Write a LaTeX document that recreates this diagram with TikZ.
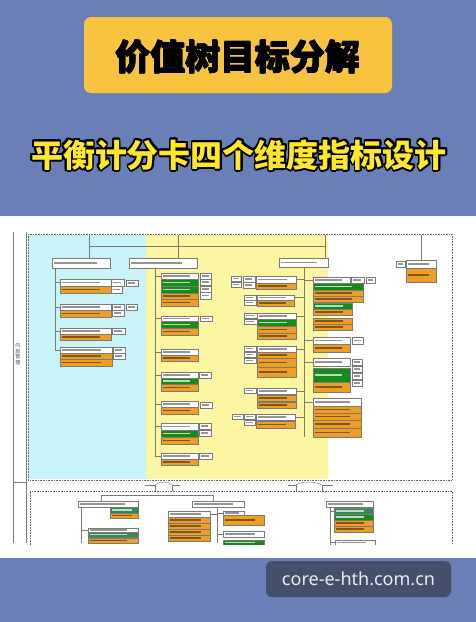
\documentclass[tikz,border=0pt]{standalone}
\usepackage{fontspec}
\usetikzlibrary{calc}
\newfontfamily\cjk{Noto Sans CJK SC}
\newfontfamily\wmfont{Noto Sans}
\definecolor{bgblue}{HTML}{6A7FB5}
\definecolor{ttlyel}{HTML}{F8C440}
\definecolor{subyel}{HTML}{FFE82A}
\definecolor{wmbox}{HTML}{434F6B}
\definecolor{wmtxt}{HTML}{E8ECF4}
\definecolor{cyanbg}{HTML}{C8F3F8}
\definecolor{yelbg}{HTML}{FCF6A2}
\definecolor{orng}{HTML}{EE9E22}
\definecolor{grn}{HTML}{178A1A}
\definecolor{teal}{HTML}{2E8B55}
\definecolor{linec}{HTML}{7A7A7A}
\newcommand\bx[6]{\node[#2, minimum width={#5-#3}, minimum height={#6-#4}] (#1) at ({(#3+#5)/2},{(#4+#6)/2}) {};}
\tikzset{
  box/.style={draw=linec, line width=0.35pt, inner sep=0pt, outer sep=0pt, rectangle},
  tex/.style={path picture={\fill[#1] ($(path picture bounding box.west)+(1.5pt,-0.8pt)$) rectangle ($(path picture bounding box.west)!0.78!(path picture bounding box.east)+(0,0.8pt)$);}},
  wb/.style={box, fill=white, tex=black!42},
  ob/.style={box, fill=orng, tex=orng!55!black},
  gb/.style={box, fill=grn, tex=white!70!grn},
  tb/.style={box, fill=teal, tex=white!70!teal},
  conn/.style={draw=linec, line width=0.45pt},
  frame/.style={draw=linec!80!black, line width=0.6pt, densely dotted},
}
\begin{document}
\begin{tikzpicture}[x=1pt,y=-1pt]
\useasboundingbox (0,0) rectangle (476,622);
% background
\fill[bgblue] (0,0) rectangle (476,622);
% title
\node[fill=ttlyel, rounded corners=7pt, minimum width=308, minimum height=76, inner sep=0] (ttlbox) at (238,55) {};
\foreach \dx/\dy in {0/0,0.5/0,-0.5/0,0/0.5,0/-0.5,0.4/0.4,-0.4/-0.4}{
  \node[font=\cjk\bfseries\fontsize{35}{40}\selectfont, text=black] at ($(238,57)+(\dx,\dy)$) {价值树目标分解};
}
\node[font=\cjk\bfseries\fontsize{35}{40}\selectfont, text=black] (ttl) at (238,57) {价值树目标分解};
% subtitle with outline
\foreach \a in {0,22.5,...,359}{
  \node[font=\cjk\bfseries\fontsize{32}{38}\selectfont, text=black] at ($(239,155)+(\a:1.8)$) {平衡计分卡四个维度指标设计};
}
\node[font=\cjk\bfseries\fontsize{32}{38}\selectfont, text=subyel] (sub) at (239,155) {平衡计分卡四个维度指标设计};
% white panel
\fill[white!96!gray] (0,216) rectangle (476,558);
\fill[white] (0,218) rectangle (476,556);
% left brackets
\draw[conn] (13,232) -- (13,543);
\draw[conn] (13,482) -- (26,482);
\draw[conn] (26,232) -- (26,543);
\node[font=\cjk\fontsize{5}{5.6}\selectfont, text=black!70, align=center, inner sep=0] (lbl) at (18,354) {内\\部\\管\\理};
% top region fills
\fill[cyanbg] (28,235) rectangle (146,479);
\fill[yelbg] (146,235) rectangle (328,479);
\draw[frame] (28,234) rectangle (452,480);
% bottom region frame
\draw[frame] (30,545) -- (30,491) -- (452,491) -- (452,545);
% braces between regions
\draw[conn] (145,485) -- (155,485) -- (155,491);
\draw[conn] (155,485) .. controls (160,481) and (168,481) .. (172,485);
\draw[conn] (172,491) -- (172,485) -- (180,485);
\draw[conn] (288,485) -- (296,485) -- (296,491);
\draw[conn] (296,485) .. controls (302,481) and (314,481) .. (322,485);
\draw[conn] (322,491) -- (322,485) -- (333,485);

% ---------- level 1 boxes ----------
\bx{A}{wb}{52}{258}{110}{268}
\bx{B}{wb}{129}{258}{197}{268}
\bx{C}{wb}{279}{258}{328}{267}
\bx{Dl}{wb}{396}{261}{405}{267}
\bx{D}{wb}{406}{260}{436}{268}
\bx{Do}{ob}{406}{268}{436}{282}
\coordinate (topA) at (89,235);
\coordinate (topB) at (178,235);
\coordinate (topC) at (325,235);
\coordinate (topD) at (421,235);
\draw[conn] (topA) -- (topA |- A.north);
\draw[conn] (topB) -- (topB |- B.north);
\draw[conn] (topC) -- (topC |- C.north);
\draw[conn] (topD) -- (topD |- D.north);
\draw[conn] (89,246) -- (325,246);

% ---------- column A ----------
\bx{A1}{wb}{60}{279}{111}{286}
\bx{A1s}{wb}{111}{279}{124}{286}
\bx{A1t}{wb}{126}{280}{138}{286}
\bx{A1o}{ob}{60}{286}{111}{293}
\bx{A1u}{wb}{111}{286}{122}{293}
\bx{A2}{wb}{60}{304}{111}{310}
\bx{A2s}{wb}{112}{304}{124}{310}
\bx{A2t}{wb}{126}{304}{137}{310}
\bx{A2o}{ob}{60}{310}{111}{317}
\bx{A2u}{wb}{112}{310}{124}{316}
\bx{A3}{wb}{60}{328}{111}{334}
\bx{A3s}{wb}{112}{328}{125}{334}
\bx{A3o}{ob}{60}{334}{111}{340}
\bx{A4}{wb}{60}{347}{112}{353}
\bx{A4s}{wb}{113}{347}{125}{353}
\bx{A4o}{ob}{60}{353}{112}{359}
\bx{A4u}{wb}{113}{353}{125}{359}
\bx{A4p}{ob}{60}{359}{112}{366}
\coordinate (tA) at (55,268);
\draw[conn] (tA) -- (55,350);
\foreach \n in {A1,A2,A3,A4}{\draw[conn] (\n.west) -- (\n.west -| tA);}

% ---------- column B ----------
\bx{B1}{wb}{161}{273}{198}{279}
\bx{B1s}{wb}{200}{273}{211}{279}
\bx{B1g}{gb}{161}{279}{198}{286}
\bx{B1t}{wb}{200}{279}{211}{285}
\bx{B1h}{gb}{161}{286}{198}{293}
\bx{B1u}{wb}{200}{286}{211}{292}
\bx{B1o}{ob}{161}{293}{198}{299}
\bx{B1v}{wb}{200}{292}{211}{299}
\bx{B1p}{ob}{161}{299}{198}{306}
\bx{B2}{wb}{161}{316}{198}{321}
\bx{B2s}{wb}{200}{316}{212}{321}
\bx{B2g}{gb}{161}{321}{198}{328}
\bx{B2o}{ob}{161}{328}{198}{335}
\bx{B3}{wb}{161}{349}{198}{355}
\bx{B3o}{ob}{161}{355}{198}{361}
\bx{B4}{wb}{161}{372}{198}{378}
\bx{B4s}{wb}{199}{372}{211}{378}
\bx{B4g}{gb}{161}{378}{198}{384}
\bx{B4o}{ob}{161}{384}{198}{391}
\bx{B5}{wb}{161}{401}{198}{407}
\bx{B5s}{wb}{200}{402}{212}{408}
\bx{B5o}{ob}{161}{407}{198}{414}
\bx{B6}{wb}{161}{423}{198}{430}
\bx{B6s}{wb}{199}{423}{211}{429}
\bx{B6t}{wb}{199}{430}{211}{436}
\bx{B6g}{gb}{161}{430}{198}{437}
\bx{B6o}{ob}{161}{437}{198}{444}
\bx{B7}{wb}{161}{453}{198}{459}
\bx{B7s}{wb}{199}{453}{212}{459}
\bx{B7o}{ob}{161}{459}{198}{465}
\coordinate (tB) at (155,268);
\draw[conn] (tB) -- (155,456);
\foreach \n in {B1,B2,B3,B4,B5,B6,B7}{\draw[conn] (\n.west) -- (\n.west -| tB);}

% ---------- column C, right side ----------
\bx{CR1}{wb}{313}{277}{350}{283}
\bx{CR1s}{wb}{351}{277}{364}{283}
\bx{CR1t}{wb}{366}{277}{375}{283}
\bx{CR1g}{gb}{313}{283}{363}{290}
\bx{CR1o}{ob}{313}{290}{363}{296}
\bx{CR1p}{ob}{313}{296}{363}{302}
\bx{CR1h}{gb}{313}{303}{352}{309}
\bx{CR1q}{ob}{313}{309}{352}{315}
\bx{CR1r}{ob}{313}{318}{352}{324}
\bx{CR1x}{ob}{313}{324}{352}{330}
\bx{CR2}{wb}{313}{337}{350}{344}
\bx{CR2s}{wb}{352}{337}{363}{344}
\bx{CR2o}{ob}{313}{344}{350}{352}
\bx{CR3}{wb}{313}{358}{350}{366}
\bx{CR3s}{wb}{352}{359}{362}{365}
\bx{CR3t}{wb}{352}{366}{362}{372}
\bx{CR3u}{wb}{352}{373}{362}{379}
\bx{CR3v}{wb}{352}{380}{362}{386}
\bx{CR3g}{gb}{313}{368}{350}{382}
\bx{CR3o}{ob}{313}{382}{350}{392}
\bx{CR4}{wb}{313}{398}{361}{406}
\bx{CR4o}{ob}{313}{406}{361}{413}
\bx{CR4p}{ob}{313}{413}{361}{420}
\bx{CR4q}{ob}{313}{420}{361}{428}
\bx{CR4r}{ob}{313}{428}{361}{437}
% ---------- column C, left side ----------
\bx{CL1a}{wb}{231}{276}{241}{281}
\bx{CL1b}{wb}{231}{282}{241}{287}
\bx{CL1s}{wb}{243}{276}{255}{282}
\bx{CL1t}{wb}{243}{282}{255}{288}
\bx{CL1}{wb}{256}{276}{296}{283}
\bx{CL1o}{ob}{256}{283}{296}{289}
\bx{CL2s}{wb}{244}{295}{256}{300}
\bx{CL2t}{wb}{244}{300}{256}{305}
\bx{CL2}{wb}{257}{295}{294}{300}
\bx{CL2o}{ob}{257}{300}{294}{306}
\bx{CL3s}{wb}{244}{313}{257}{318}
\bx{CL3t}{wb}{244}{319}{257}{324}
\bx{CL3}{wb}{257}{313}{296}{319}
\bx{CL3g}{gb}{257}{319}{296}{326}
\bx{CL3o}{ob}{257}{326}{296}{333}
\bx{CL3p}{ob}{257}{333}{296}{339}
\bx{CL4s}{wb}{244}{346}{256}{351}
\bx{CL4t}{wb}{244}{352}{256}{357}
\bx{CL4u}{wb}{244}{358}{256}{363}
\bx{CL4}{wb}{257}{346}{296}{352}
\bx{CL4o}{ob}{257}{352}{296}{358}
\bx{CL4p}{ob}{257}{358}{296}{367}
\bx{CL4q}{ob}{257}{367}{296}{377}
\bx{CL5s}{wb}{244}{388}{256}{393}
\bx{CL5}{wb}{257}{388}{296}{394}
\bx{CL5o}{ob}{257}{395}{296}{401}
\bx{CL5p}{ob}{257}{402}{296}{408}
\bx{CL6a}{wb}{232}{414}{243}{419}
\bx{CL6s}{wb}{244}{414}{255}{419}
\bx{CL6t}{wb}{244}{420}{255}{425}
\bx{CL6}{wb}{256}{414}{295}{420}
\bx{CL6o}{ob}{256}{421}{295}{428}
\coordinate (tC) at (304,267);
\draw[conn] (tC) -- (304,437);
\foreach \n in {CR1,CR2,CR3,CR4}{\draw[conn] (\n.west) -- (\n.west -| tC);}
\foreach \n in {CL1,CL2,CL3,CL4,CL5,CL6}{\draw[conn] (\n.east) -- (\n.east -| tC);}

% ---------- bottom region ----------
\bx{E1}{wb}{78}{501}{138}{507}
\bx{E1g}{tb}{110}{507}{138}{513}
\bx{E1o}{ob}{110}{513}{138}{518}
\bx{E2}{wb}{88}{528}{138}{532}
\bx{E2g}{tb}{88}{532}{138}{537}
\bx{E2o}{ob}{88}{538}{138}{543}
\coordinate (tE) at (81,507);
\draw[conn] (tE) -- (81,543);
\draw[conn] (E2.west) -- (E2.west -| tE);
\bx{F}{wb}{192}{501}{244}{507}
\bx{G}{wb}{168}{511}{210}{517}
\bx{Go}{ob}{168}{517}{210}{523}
\bx{Gp}{ob}{168}{523}{210}{529}
\bx{Gq}{ob}{168}{529}{210}{535}
\bx{Gr}{ob}{168}{535}{210}{541}
\bx{F1}{wb}{223}{511}{244}{515}
\bx{F1o}{ob}{223}{515}{264}{525}
\bx{F2}{wb}{223}{531}{264}{537}
\bx{F2g}{gb}{223}{540}{264}{545}
\coordinate (tF) at (217,507);
\draw[conn] (tF) -- (217,543);
\draw[conn] (G.east) -- (G.east -| tF);
\draw[conn] (F1.west) -- (F1.west -| tF);
\draw[conn] (F2.west) -- (F2.west -| tF);
\coordinate (hb) at (101,495);
\draw[conn] (hb) -- (213,495);
\draw[conn] (hb) -- (hb |- E1.north);
\draw[conn] (213,495) -- (213,501);
\bx{H}{wb}{326}{501}{373}{507}
\bx{Hg}{tb}{334}{508}{373}{514}
\bx{Hh}{gb}{334}{514}{373}{520}
\bx{Ho}{ob}{334}{520}{373}{526}
\bx{Hp}{ob}{334}{526}{373}{532}
\bx{Hw}{wb}{335}{540}{375}{545}
\coordinate (tH) at (330,507);
\draw[conn] (tH) -- (330,545);
\draw[conn] (Hg.west) -- (Hg.west -| tH);
\draw[conn] (Hw.west) -- (Hw.west -| tH);
% cover bottom overflow
\fill[white] (0,545) rectangle (476,556);
\fill[white!96!gray] (0,556) rectangle (476,558);

% watermark
\node[fill=wmbox, rounded corners=6pt, minimum width=185, minimum height=36, inner sep=0] (wm) at (358.5,579) {};
\node[font=\wmfont\fontsize{18}{20}\selectfont, text=wmtxt] (wmt) at (358.5,579) {core-e-hth.com.cn};
\end{tikzpicture}
\end{document}
